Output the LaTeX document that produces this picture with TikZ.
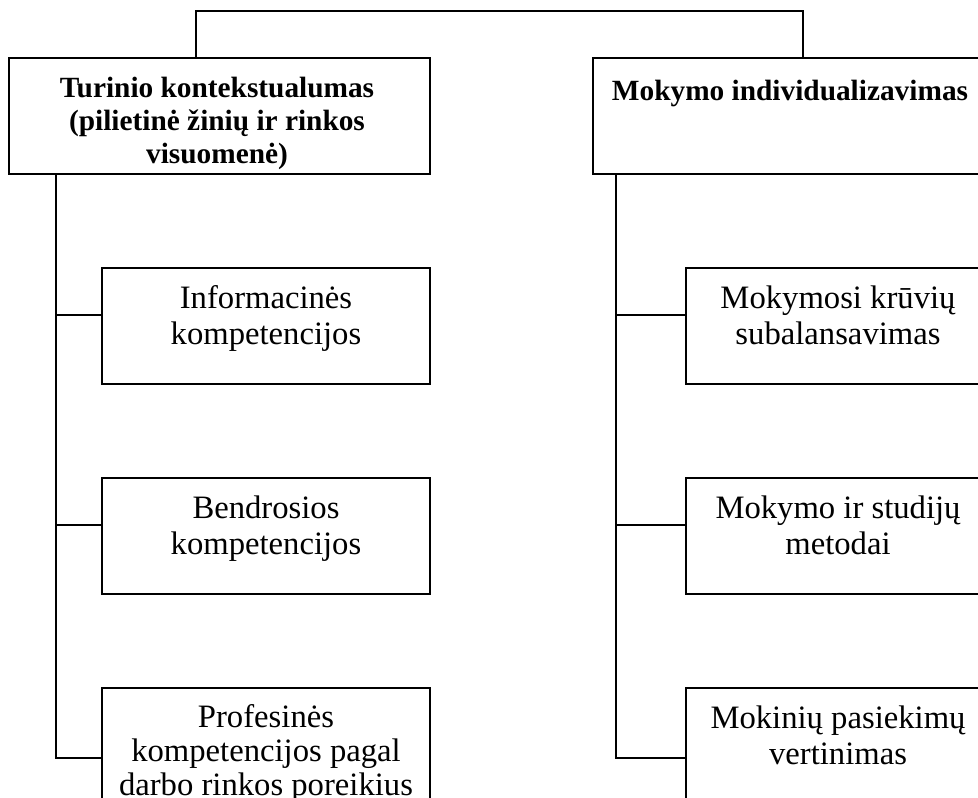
\documentclass[tikz,border=0pt]{standalone}
\usepackage{fontspec}
\setmainfont{Liberation Serif}
\begin{document}
\begin{tikzpicture}
  [x=0.75pt,y=-0.75pt,line width=1.5pt,
   boxN/.style={draw,minimum height=87pt,inner sep=0pt},
   headT/.style={anchor=north,align=center,inner sep=0pt,
                 font=\fontsize{22}{24.75}\selectfont\bfseries},
   subT/.style={anchor=north,align=center,inner sep=0pt,
                font=\fontsize{24.5}{27}\selectfont}]

  \useasboundingbox (0,0) rectangle (978,798);

  \coordinate (tl) at (196,11);
  \coordinate (tr) at (803,11);
  \coordinate (lb) at (56,758);
  \coordinate (rb) at (616,758);
  \coordinate (l1) at (56,315);
  \coordinate (l2) at (56,525);
  \coordinate (r1) at (616,315);
  \coordinate (r2) at (616,525);

  \node[boxN,minimum width=315.75pt] (tk) at (219.5,116) {};
  \node[boxN,minimum width=295.5pt]  (mi) at (790,116)   {};

  \node[boxN,minimum width=246pt] (inf) at (266,326) {};
  \node[boxN,minimum width=246pt] (ben) at (266,536) {};
  \node[boxN,minimum width=246pt] (pro) at (266,746) {};

  \node[boxN,minimum width=228pt] (krv) at (838,326) {};
  \node[boxN,minimum width=228pt] (met) at (838,536) {};
  \node[boxN,minimum width=228pt] (ver) at (838,746) {};

  \draw (tk.north -| tl) -- (tl) -- (tr) -- (mi.north -| tr);

  \draw (tk.south -| lb) -- (lb) -- (pro.west |- lb);
  \draw (l1) -- (inf.west |- l1);
  \draw (l2) -- (ben.west |- l2);

  \draw (mi.south -| rb) -- (rb) -- (ver.west |- rb);
  \draw (r1) -- (krv.west |- r1);
  \draw (r2) -- (met.west |- r2);

  \node[headT] (tkT) at (217,76) {Turinio kontekstualumas\\(pilietinė žinių ir rinkos\\visuomenė)};
  \node[headT] (miT) at (790,79) {Mokymo individualizavimas};

  \node[subT] (infT) at (266,285) {Informacinės\\kompetencijos};
  \node[subT] (benT) at (266,495) {Bendrosios\\kompetencijos};
  \node[subT,font=\fontsize{24.5}{25.5}\selectfont] (proT) at (266,703)
    {Profesinės\\kompetencijos pagal\\darbo rinkos poreikius};

  \node[subT] (krvT) at (838,285) {Mokymosi krūvių\\subalansavimas};
  \node[subT] (metT) at (838,495) {Mokymo ir studijų\\metodai};
  \node[subT] (verT) at (838,705) {Mokinių pasiekimų\\vertinimas};
\end{tikzpicture}
\end{document}
